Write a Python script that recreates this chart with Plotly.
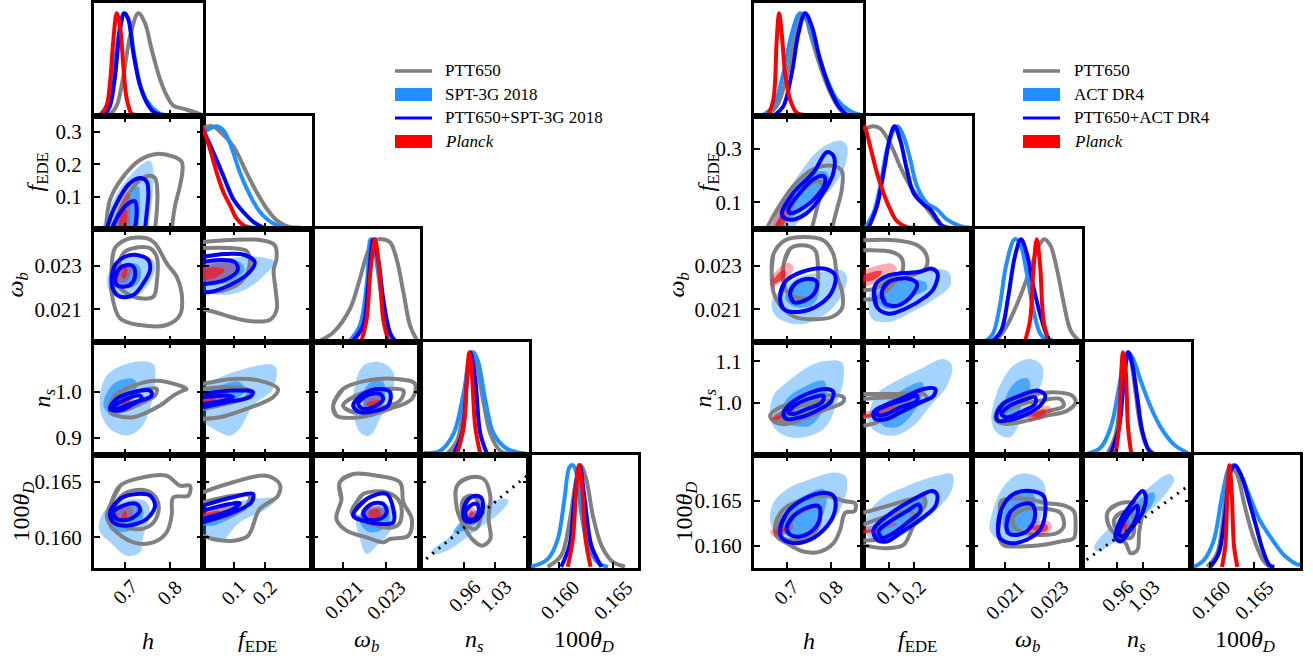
import plotly.graph_objects as go

W, H = 1313, 662
FONT = "Liberation Serif"

# ============================ LEFT : PTT650 / SPT-3G 2018 ============================
L_NAMES = ["PTT650", "SPT-3G 2018", "PTT650+SPT-3G 2018", "<i>Planck</i>"]

# 1D marginals (parameter value, normalised density)
L1_h = dict(
    ptt=[(0.6667,0),(0.6815,0.09),(0.6963,0.38),(0.7111,0.77),(0.7296,1),(0.7445,0.9),(0.7593,0.64),(0.7778,0.35),(0.7926,0.19),(0.8074,0.09),(0.8297,0.06),(0.8519,0.03),(0.8704,0)],
    ext=[(0.6444,0),(0.6593,0.09),(0.6741,0.42),(0.6889,0.87),(0.6978,1),(0.7074,0.94),(0.7185,0.64),(0.7333,0.30),(0.7482,0.14),(0.7704,0.03),(0.7852,0)],
    comb=[(0.6556,0),(0.6667,0.09),(0.6778,0.38),(0.6889,0.84),(0.6985,1),(0.7074,0.94),(0.7185,0.61),(0.7333,0.29),(0.7482,0.12),(0.763,0.03),(0.7778,0)],
    planck=[(0.6481,0),(0.6593,0.09),(0.6667,0.32),(0.6741,0.74),(0.6815,1),(0.6889,0.87),(0.6963,0.48),(0.7037,0.16),(0.7148,0.01),(0.725,0)],
)
L1_f = dict(
    ptt=[(0,0.98),(0.03,1.0),(0.0556,0.945),(0.0984,0.8),(0.1412,0.54),(0.1733,0.35),(0.2054,0.19),(0.2375,0.074),(0.2803,0.006),(0.31,0)],
    ext=[(0,0.94),(0.0235,0.977),(0.0449,1),(0.0663,0.96),(0.0877,0.83),(0.1198,0.54),(0.1519,0.32),(0.184,0.155),(0.2268,0.042),(0.2696,0.006),(0.3124,0)],
    comb=[(0,0.97),(0.0342,0.74),(0.0663,0.51),(0.0984,0.28),(0.1305,0.155),(0.1626,0.058),(0.1947,0)],
    planck=[(0,0.99),(0.0235,0.77),(0.0449,0.54),(0.0663,0.35),(0.0877,0.22),(0.1091,0.09),(0.1305,0.026),(0.1626,0)],
)
L1_w = dict(
    ptt=[(0.019907,0),(0.020531,0.08),(0.021314,0.31),(0.021783,0.61),(0.022097,0.84),(0.022407,0.98),(0.022801,1.0),(0.023190,0.97),(0.023504,0.80),(0.023814,0.48),(0.024128,0.15),(0.024442,0.01)],
    ext=[(0.021314,0),(0.021783,0.15),(0.022097,0.54),(0.022284,1),(0.022487,0.87),(0.022721,0.54),(0.023035,0.15),(0.023345,0.01)],
    comb=[(0.021470,0),(0.021938,0.15),(0.022173,0.54),(0.022407,1),(0.022642,0.8),(0.022876,0.41),(0.023190,0.08),(0.023425,0)],
    planck=[(0.021861,0),(0.022097,0.21),(0.022284,0.7),(0.022487,1),(0.022689,0.7),(0.022876,0.21),(0.023111,0)],
)
L1_n = dict(
    ptt=[(0.9209,0),(0.9435,0.13),(0.9584,0.46),(0.9697,0.93),(0.9774,1.0),(0.9887,0.86),(1.0036,0.5),(1.0187,0.2),(1.0413,0.03),(1.0639,0)],
    ext=[(0.8681,0.007),(0.9058,0.03),(0.9358,0.2),(0.9584,0.6),(0.9735,0.96),(0.9810,1.0),(0.9923,0.89),(1.0074,0.53),(1.0262,0.2),(1.0564,0.05),(1.1016,0)],
    comb=[(0.9358,0),(0.9548,0.2),(0.9661,0.73),(0.9735,1),(0.9848,0.73),(0.9961,0.2),(1.0113,0)],
    planck=[(0.9435,0),(0.9584,0.26),(0.9661,0.76),(0.9713,1),(0.9774,0.76),(0.9848,0.26),(0.9961,0)],
)
L1_t = dict(
    ptt=[(0.158897,0),(0.160157,0.11),(0.160943,0.44),(0.161575,0.86),(0.161980,1),(0.162518,0.86),(0.163140,0.5),(0.163932,0.21),(0.164875,0.06),(0.166130,0)],
    ext=[(0.157331,0),(0.158897,0.075),(0.159840,0.27),(0.160472,0.67),(0.160943,0.98),(0.161254,1),(0.161575,0.93),(0.162046,0.53),(0.162669,0.21),(0.163612,0.04),(0.164555,0)],
    comb=[(0.160157,0),(0.160943,0.21),(0.161415,0.67),(0.161886,1),(0.162358,0.67),(0.162989,0.21),(0.163932,0)],
    planck=[(0.160783,0),(0.161254,0.27),(0.161575,0.76),(0.161820,1),(0.162140,0.76),(0.162452,0.27),(0.162924,0)],
)

# 2D contours (x, y) : [outer (95%), inner (68%)]
L_f_h = dict(
    ptt=[[(0.658,0),(0.6667,0.0908),(0.6963,0.1626),(0.7333,0.2139),(0.7704,0.2324),(0.8074,0.2241),(0.826,0.2088),(0.828,0.183),(0.822,0.132),(0.811,0.070),(0.804,0)],
         [(0.6704,0),(0.6963,0.0805),(0.7259,0.1421),(0.7519,0.1646),(0.7667,0.1575),(0.7719,0.1113),(0.7704,0.0497),(0.7667,0)]],
    ext=[[(0.6481,0),(0.6667,0.0702),(0.7037,0.1523),(0.7408,0.2036),(0.7556,0.2118),(0.763,0.1831),(0.7615,0.1113),(0.7556,0.0395),(0.7519,0)],
         [(0.6667,0),(0.6889,0.0702),(0.7148,0.1215),(0.7296,0.1318),(0.7333,0.0908),(0.7296,0)]],
    comb=[[(0.6593,0),(0.6778,0.0702),(0.7111,0.1421),(0.737,0.1575),(0.7482,0.1472),(0.7519,0.1113),(0.7482,0.0497),(0.7445,0)],
          [(0.6704,0),(0.6889,0.0497),(0.7111,0.0826),(0.7222,0.0856),(0.7259,0.06),(0.7222,0)]],
    planck=[[(0.6741,0),(0.6852,0.0651),(0.7037,0.1164),(0.7111,0.101),(0.7096,0)],
            [(0.6852,0),(0.6926,0.0497),(0.7022,0.06),(0.7037,0)]],
)
L_w_h = dict(
    ptt=[[(0.6778,0.023832),(0.7038,0.024234),(0.7482,0.024280),(0.7667,0.024049),(0.7927,0.023125),(0.8149,0.022506),(0.8260,0.021739),(0.8222,0.020737),(0.7927,0.020275),(0.7333,0.020275),(0.6889,0.020584),(0.6704,0.021739),(0.6704,0.022968)],
         [(0.6963,0.023587),(0.7185,0.023818),(0.7556,0.023818),(0.7704,0.023430),(0.7704,0.022201),(0.7630,0.021582),(0.7333,0.021508),(0.7037,0.021739),(0.6815,0.022201)]],
    ext=[[(0.6593,0.022354),(0.6741,0.022968),(0.7038,0.023356),(0.7407,0.023430),(0.7630,0.023278),(0.7667,0.022816),(0.7482,0.022044),(0.7185,0.021508),(0.6889,0.021508),(0.6667,0.021813)],
         [(0.674,0.022506),(0.6889,0.022968),(0.7185,0.023125),(0.7333,0.022968),(0.7333,0.022354),(0.7185,0.022044),(0.6889,0.022044)]],
    comb=[[(0.6704,0.022354),(0.6778,0.023047),(0.7,0.023430),(0.726,0.023509),(0.7518,0.023278),(0.7556,0.022816),(0.7407,0.022201),(0.7185,0.021661),(0.6889,0.021582),(0.6741,0.021892)],
          [(0.6778,0.022354),(0.6852,0.022816),(0.7038,0.023047),(0.7185,0.022968),(0.7222,0.022506),(0.7111,0.022123),(0.6926,0.022044),(0.6815,0.022123)]],
    planck=[[(0.6815,0.022354),(0.6926,0.022894),(0.7073,0.023125),(0.7148,0.022968),(0.7111,0.022506),(0.6963,0.022201)],
            [(0.6926,0.022506),(0.6978,0.022894),(0.7038,0.022968),(0.7051,0.022737),(0.7,0.022432)]],
)
L_w_f = dict(
    ptt=[[(0,0.024109),(0.0867,0.024202),(0.183,0.024202),(0.2311,0.023971),(0.2375,0.023370),(0.2279,0.022816),(0.2343,0.021892),(0.2375,0.020968),(0.2151,0.020506),(0.1509,0.020460),(0.1027,0.020598),(0.0385,0.020875),(0,0.021014)],
         [(0,0.023832),(0.0867,0.023832),(0.1412,0.023693),(0.1509,0.023370),(0.1445,0.022723),(0.1188,0.022215),(0.0706,0.021892),(0.0225,0.021799),(0,0.021799)]],
    ext=[[(0,0.023185),(0.0867,0.023370),(0.183,0.023416),(0.2311,0.023185),(0.199,0.022585),(0.1348,0.021892),(0.0706,0.021661),(0,0.021799)],
         [(0,0.023001),(0.0706,0.023185),(0.1188,0.023185),(0.1348,0.022816),(0.0867,0.022261),(0,0.022076)]],
    comb=[[(0,0.023416),(0.0706,0.023555),(0.1348,0.023509),(0.1669,0.023185),(0.1509,0.022723),(0.0867,0.022123),(0.0225,0.021799),(0,0.021799)],
          [(0,0.023185),(0.0546,0.023278),(0.1027,0.023185),(0.1124,0.022816),(0.0706,0.022354),(0,0.022169)]],
    planck=[[(0,0.023093),(0.06,0.023185),(0.115,0.022985),(0.1,0.022585),(0.04,0.022261),(0,0.022169)],
            [(0,0.022816),(0.0385,0.022955),(0.0706,0.022816),(0.0385,0.022446),(0,0.022354)]],
)
L_n_h = dict(
    ptt=[[(0.6667,0.9552),(0.6741,0.9878),(0.7185,1.0130),(0.7704,1.0239),(0.8222,1.0130),(0.8371,1.0059),(0.8267,1.0015),(0.8074,0.9913),(0.7778,0.9696),(0.7185,0.9444),(0.6815,0.9478)],
         [(0.674,0.9624),(0.6889,0.9843),(0.7333,1.0022),(0.7704,1.0059),(0.7667,0.9913),(0.7333,0.9733),(0.6963,0.9587)]],
    ext=[[(0.6444,0.9624),(0.6593,1.0348),(0.7185,1.0639),(0.7630,1.0602),(0.7667,1.0204),(0.7556,0.9624),(0.7333,0.9189),(0.7037,0.9043),(0.6667,0.9189)],
         [(0.6518,0.9696),(0.674,1.0168),(0.7185,1.0277),(0.726,1.0096),(0.7038,0.9696),(0.674,0.9478)]],
    comb=[[(0.6667,0.9624),(0.6815,0.9843),(0.7185,0.9987),(0.7556,1.0022),(0.7593,0.9913),(0.726,0.9770),(0.6889,0.9587)],
          [(0.674,0.9661),(0.7038,0.9843),(0.7333,0.9913),(0.737,0.9843),(0.7111,0.9733),(0.6815,0.9624)]],
    planck=[[(0.6778,0.9696),(0.7038,0.9843),(0.7185,0.9878),(0.7148,0.9770),(0.6889,0.9661)],
            [(0.6889,0.9733),(0.7038,0.9804),(0.7111,0.9804),(0.7,0.9733)]],
)
L_n_f = dict(
    ptt=[[(0,1.0168),(0.0973,1.0277),(0.183,1.0239),(0.2417,1.0059),(0.2257,0.9878),(0.1403,0.9624),(0.0546,0.9443),(0,0.9407)],
         [(0,1.0059),(0.0973,1.0096),(0.1509,1.0022),(0.1403,0.9878),(0.076,0.9733),(0,0.9624)]],
    ext=[[(0,1.0130),(0.0973,1.0422),(0.2311,1.0568),(0.2257,1.0059),(0.1615,0.9696),(0.1188,0.9189),(0.0867,0.9043),(0,0.9335)],
         [(0,1.0015),(0.0706,1.0168),(0.1188,1.0211),(0.1348,1.0015),(0.0706,0.9711),(0,0.9581)]],
    comb=[[(0,0.9950),(0.0973,1.0022),(0.1615,0.9987),(0.1509,0.9878),(0.076,0.9770),(0,0.9661)],
          [(0,0.9878),(0.076,0.9913),(0.0973,0.9878),(0.0652,0.9804),(0,0.9733)]],
    planck=[[(0,0.9913),(0.0652,0.9913),(0.0867,0.9878),(0.0546,0.9804),(0,0.9733)],
            [(0,0.9878),(0.044,0.9878),(0.033,0.9804),(0,0.9783)]],
)
L_n_w = dict(
    ptt=[[(0.020536,0.9696),(0.021,1.0059),(0.022097,1.0239),(0.023504,1.0276),(0.024363,1.0168),(0.024208,0.9841),(0.023190,0.9624),(0.021783,0.9443),(0.020690,0.9478)],
         [(0.021,0.9696),(0.021783,0.9950),(0.023035,1.0059),(0.023814,1.0022),(0.023659,0.9804),(0.022567,0.9624),(0.021469,0.9552)]],
    ext=[[(0.021938,1.0565),(0.022721,1.0639),(0.023345,1.0422),(0.023270,0.9913),(0.022721,0.9407),(0.022252,0.9043),(0.021783,0.9117),(0.021469,0.9624),(0.021549,1.0130)],
         [(0.021938,0.9987),(0.022407,1.0239),(0.022876,1.0204),(0.022956,0.9913),(0.022642,0.9552),(0.022252,0.9443),(0.022018,0.9624)]],
    comb=[[(0.021469,0.9696),(0.021938,0.9950),(0.022721,1.0059),(0.023190,0.9987),(0.023111,0.9696),(0.022567,0.9587),(0.021783,0.9552)],
          [(0.021704,0.9733),(0.022097,0.9913),(0.022721,0.9950),(0.022876,0.9841),(0.022567,0.9696),(0.021938,0.9624)]],
    planck=[[(0.021938,0.9733),(0.022252,0.9878),(0.022801,0.9878),(0.022876,0.9770),(0.022486,0.9661),(0.022018,0.9624)],
            [(0.022097,0.9733),(0.022407,0.9804),(0.022721,0.9804),(0.022642,0.9696),(0.022252,0.9661)]],
)
L_t_h = dict(
    ptt=[[(0.6667,0.162841),(0.6889,0.164639),(0.7407,0.165394),(0.7926,0.165538),(0.8222,0.164639),(0.8444,0.164639),(0.8407,0.163740),(0.8074,0.163596),(0.8037,0.161942),(0.7926,0.160450),(0.7630,0.159551),(0.7185,0.159551),(0.6741,0.160746),(0.6593,0.161942)],
         [(0.6815,0.163146),(0.7038,0.164045),(0.7482,0.164189),(0.7704,0.163443),(0.7741,0.162248),(0.7556,0.161043),(0.7185,0.160746),(0.6889,0.161349),(0.6778,0.162248)]],
    ext=[[(0.6444,0.161645),(0.6667,0.162841),(0.7185,0.163443),(0.7482,0.163146),(0.7556,0.161942),(0.7407,0.160144),(0.7333,0.158652),(0.7038,0.158346),(0.6667,0.159551),(0.6444,0.160450)],
         [(0.6667,0.161645),(0.6889,0.162544),(0.7333,0.162841),(0.7407,0.161942),(0.7185,0.160746),(0.6889,0.160450),(0.6667,0.160746)]],
    comb=[[(0.6667,0.162248),(0.6889,0.163443),(0.726,0.163893),(0.7556,0.163740),(0.7667,0.162841),(0.7482,0.161645),(0.7038,0.161043),(0.6741,0.161349)],
          [(0.674,0.162248),(0.6963,0.162841),(0.726,0.162994),(0.7333,0.162391),(0.7111,0.161645),(0.6815,0.161645)]],
    planck=[[(0.6778,0.162095),(0.6963,0.162697),(0.7148,0.162697),(0.7185,0.162095),(0.7038,0.161645),(0.6815,0.161645)],
            [(0.6926,0.161942),(0.7,0.162391),(0.7038,0.162248),(0.7022,0.161645),(0.6948,0.161582)]],
)
L_t_f = dict(
    ptt=[[(0,0.164046),(0.0973,0.164945),(0.2044,0.165538),(0.2472,0.164792),(0.2418,0.163740),(0.183,0.162544),(0.1455,0.160144),(0.0973,0.159694),(0.0331,0.159847),(0,0.160144)],
         [(0,0.163146),(0.0973,0.163740),(0.1509,0.163740),(0.1403,0.162841),(0.0867,0.161942),(0,0.161492)]],
    ext=[[(0,0.161942),(0.0973,0.163146),(0.2366,0.163443),(0.2044,0.162544),(0.1188,0.161349),(0.0546,0.159551),(0,0.160144)],
         [(0,0.161942),(0.0973,0.162544),(0.1403,0.162544),(0.0973,0.161798),(0.0331,0.161043),(0,0.161043)]],
    comb=[[(0,0.162841),(0.0973,0.163596),(0.1615,0.163893),(0.1562,0.163146),(0.0973,0.162248),(0,0.161349)],
          [(0,0.162391),(0.0867,0.162994),(0.1188,0.163084),(0.0973,0.162544),(0,0.161645)]],
    planck=[[(0,0.162391),(0.076,0.162841),(0.0973,0.162697),(0.076,0.162248),(0,0.161798)],
            [(0,0.162185),(0.0546,0.162391),(0.044,0.162095),(0,0.161888)]],
)
L_t_w = dict(
    ptt=[[(0.020845,0.164945),(0.021469,0.165691),(0.022567,0.165538),(0.023659,0.164945),(0.023814,0.163147),(0.024208,0.161645),(0.024048,0.160144),(0.023190,0.159847),(0.022876,0.159551),(0.022097,0.160),(0.021159,0.160593),(0.020690,0.161645),(0.020925,0.163443)],
         [(0.021628,0.163147),(0.021938,0.163893),(0.023035,0.164045),(0.023659,0.163147),(0.023659,0.161348),(0.023345,0.160899),(0.022567,0.161043),(0.021783,0.161645),(0.021394,0.162248)]],
    ext=[[(0.021628,0.161645),(0.022097,0.162544),(0.023190,0.162841),(0.023504,0.162248),(0.023270,0.160746),(0.022567,0.159245),(0.022097,0.158499),(0.021783,0.159847)],
         [(0.021783,0.161942),(0.022252,0.162544),(0.023035,0.162544),(0.023190,0.161645),(0.022876,0.160746),(0.022252,0.160450),(0.021862,0.161043)]],
    comb=[[(0.021469,0.161942),(0.022097,0.163443),(0.023035,0.163893),(0.023345,0.162544),(0.023345,0.161348),(0.022721,0.161199),(0.021938,0.161492)],
          [(0.021938,0.162248),(0.022331,0.162994),(0.022876,0.162994),(0.023035,0.162248),(0.022721,0.161645),(0.022097,0.161645)]],
    planck=[[(0.022018,0.162248),(0.022331,0.162841),(0.022801,0.162697),(0.022956,0.161942),(0.022642,0.161492),(0.022173,0.161645)],
            [(0.022173,0.162095),(0.022407,0.162544),(0.022721,0.162391),(0.022721,0.161798),(0.022331,0.161708)]],
)
L_t_n = dict(
    ptt=[[(0.9435,0.164639),(0.9735,0.165394),(1.0036,0.165241),(1.0187,0.163740),(1.0149,0.161645),(1.0187,0.159847),(1.0000,0.159245),(0.9774,0.159847),(0.9584,0.161043),(0.9435,0.162544)],
         [(0.9584,0.163443),(0.9774,0.163740),(0.9923,0.163147),(0.9961,0.161645),(0.9848,0.160746),(0.9661,0.161043),(0.9548,0.162248)]],
    ext=[[(0.8832,0.158652),(0.9209,0.159847),(0.9810,0.162248),(1.0413,0.163443),(1.0600,0.163290),(1.0413,0.162248),(0.9810,0.160450),(0.9209,0.158796),(0.8871,0.158499)],
         [(0.9358,0.160450),(0.9584,0.161645),(0.9961,0.162544),(1.0074,0.162248),(0.9887,0.161348),(0.9584,0.160593)]],
    comb=[[(0.9584,0.162544),(0.9697,0.163443),(0.9887,0.163740),(1.0000,0.163443),(1.0000,0.162248),(0.9848,0.161492),(0.9623,0.161492)],
          [(0.9623,0.162248),(0.9735,0.162841),(0.9887,0.162994),(0.9923,0.162248),(0.9810,0.161645),(0.9661,0.161708)]],
    planck=[[(0.9661,0.162095),(0.9774,0.162697),(0.9848,0.162544),(0.9848,0.161798),(0.9697,0.161645)],
            [(0.9697,0.162095),(0.9774,0.162391),(0.9810,0.162095),(0.9735,0.161798)]],
)
L_line_ns = [0.86, 1.11]
L_line_theta = [0.157602, 0.165814]

# ============================ RIGHT : PTT650 / ACT DR4 ============================
R_NAMES = ["PTT650", "ACT DR4", "PTT650+ACT DR4", "<i>Planck</i>"]

R1_h = dict(
    ptt=[(0.6545,0),(0.6773,0.085),(0.7,0.38),(0.7152,0.71),(0.7303,0.95),(0.7394,1),(0.7531,0.80),(0.7758,0.48),(0.7985,0.22),(0.8213,0.05),(0.8364,0)],
    ext=[(0.6469,0),(0.6697,0.085),(0.6924,0.41),(0.7114,0.8),(0.7303,1),(0.7455,0.93),(0.7682,0.64),(0.7909,0.35),(0.8137,0.15),(0.8440,0.035),(0.8668,0)],
    comb=[(0.6735,0),(0.6924,0.085),(0.7114,0.41),(0.7265,0.8),(0.7417,1),(0.7569,0.87),(0.7758,0.54),(0.7985,0.25),(0.8175,0.085),(0.8364,0)],
    planck=[(0.6583,0),(0.6697,0.15),(0.6773,0.74),(0.6826,1),(0.6886,0.80),(0.6962,0.41),(0.7076,0.15),(0.7227,0.02),(0.7379,0)],
)
R1_f = dict(
    ptt=[(0,0.97),(0.0408,1.0),(0.0671,0.977),(0.1065,0.83),(0.1460,0.60),(0.1854,0.41),(0.2249,0.28),(0.2643,0.147),(0.3038,0.033),(0.3432,0)],
    ext=[(0.0079,0),(0.0408,0.147),(0.0671,0.41),(0.0934,0.77),(0.1197,0.96),(0.1354,1),(0.1591,0.90),(0.1854,0.67),(0.2117,0.41),(0.2512,0.24),(0.2906,0.18),(0.3301,0.08),(0.3827,0.016),(0.4221,0)],
    comb=[(0.0210,0),(0.0540,0.21),(0.0803,0.54),(0.1065,0.90),(0.1236,1),(0.1460,0.86),(0.1722,0.57),(0.1986,0.34),(0.2380,0.23),(0.2643,0.18),(0.2840,0.11),(0.3104,0.02),(0.3301,0)],
    planck=[(0,1.0),(0.0079,0.977),(0.0276,0.80),(0.0540,0.54),(0.0803,0.34),(0.1065,0.18),(0.1328,0.065),(0.1722,0.007),(0.2117,0)],
)
R1_w = dict(
    ptt=[(0.020615,0),(0.021077,0.14),(0.021693,0.43),(0.022155,0.70),(0.022617,0.96),(0.022802,1),(0.023079,0.94),(0.023387,0.70),(0.023695,0.37),(0.024002,0.105),(0.024386,0)],
    ext=[(0.020154,0),(0.020460,0.07),(0.020769,0.34),(0.021077,0.76),(0.021462,1),(0.021693,0.96),(0.022002,0.67),(0.022309,0.30),(0.022617,0.07),(0.022925,0)],
    comb=[(0.020460,0),(0.020846,0.105),(0.021154,0.43),(0.021462,0.83),(0.021739,1),(0.022002,0.86),(0.022309,0.53),(0.022694,0.20),(0.023002,0.02),(0.023155,0)],
    planck=[(0.021924,0),(0.022155,0.20),(0.022309,0.70),(0.022463,1),(0.022617,0.73),(0.022771,0.20),(0.023002,0)],
)
R1_n = dict(
    ptt=[(0.9331,0),(0.9555,0.19),(0.9689,0.59),(0.9797,0.92),(0.9869,0.98),(0.9958,0.92),(1.0093,0.59),(1.0227,0.26),(1.0408,0.06),(1.0588,0)],
    ext=[(0.8792,0),(0.9150,0.06),(0.9420,0.26),(0.9644,0.65),(0.9778,0.92),(0.9869,1),(1.0002,0.95),(1.0227,0.72),(1.0496,0.46),(1.0766,0.26),(1.1124,0.09),(1.1484,0.01)],
    comb=[(0.9420,0),(0.9644,0.26),(0.9778,0.72),(0.9896,1),(1.0002,0.88),(1.0138,0.55),(1.0273,0.22),(1.0453,0.03),(1.0543,0)],
    planck=[(0.9555,0),(0.9644,0.26),(0.9707,0.82),(0.9752,1),(0.9824,0.82),(0.9887,0.26),(0.9976,0)],
)
R1_t = dict(
    ptt=[(0.159621,0),(0.160757,0.13),(0.161515,0.52),(0.161894,0.92),(0.162348,0.99),(0.163030,0.92),(0.163976,0.59),(0.164924,0.30),(0.166060,0.066),(0.166817,0)],
    ext=[(0.158106,0),(0.159243,0.066),(0.160379,0.26),(0.161326,0.69),(0.162083,0.95),(0.162651,1),(0.163408,0.92),(0.164544,0.69),(0.165680,0.46),(0.167196,0.26),(0.168332,0.13),(0.169849,0.03),(0.1705,0.015)],
    comb=[(0.160000,0),(0.160946,0.13),(0.161704,0.52),(0.162272,0.92),(0.162840,1),(0.163598,0.89),(0.164544,0.62),(0.165302,0.39),(0.166060,0.16),(0.166817,0.016),(0.167384,0)],
    planck=[(0.161326,0),(0.161704,0.2),(0.161969,0.72),(0.162196,1),(0.162462,0.72),(0.162726,0.2),(0.163105,0)],
)

R_f_h = dict(
    ptt=[[(0.6545,0),(0.6733,0.0597),(0.715,0.1607),(0.7605,0.2242),(0.8059,0.2367),(0.8249,0.2179),(0.8249,0.1485),(0.8135,0.0725),(0.8021,0)],
         [(0.6733,0),(0.7,0.0725),(0.7378,0.1485),(0.7681,0.1799),(0.7833,0.1607),(0.7719,0.0977),(0.7567,0)]],
    ext=[[(0.662,0),(0.6848,0.0847),(0.7302,0.2117),(0.7757,0.3002),(0.8211,0.3317),(0.8364,0.3127),(0.8325,0.2367),(0.8059,0.1607),(0.7605,0.0847),(0.7302,0.0342),(0.715,0)],
         [(0.6924,0.0597),(0.7226,0.1607),(0.7605,0.2117),(0.7909,0.2117),(0.7947,0.1672),(0.7605,0.1102),(0.715,0.0470),(0.6962,0.0342)]],
    comb=[[(0.6886,0.0597),(0.715,0.1357),(0.7605,0.2117),(0.7909,0.2877),(0.8059,0.2747),(0.8059,0.2117),(0.7833,0.1357),(0.7455,0.0597),(0.7075,0.0342),(0.6909,0.0467)],
          [(0.7038,0.0725),(0.7302,0.1357),(0.7605,0.1862),(0.7833,0.1987),(0.7871,0.1737),(0.7681,0.1227),(0.7302,0.0725),(0.7075,0.0597)]],
    planck=[[(0.662,0),(0.6771,0.0597),(0.7,0.1102),(0.715,0.1230),(0.7188,0.0977),(0.7038,0.0342),(0.6924,0)],
            [(0.6733,0),(0.6810,0.0342),(0.6924,0.0597),(0.6985,0.0467),(0.6886,0)]],
)
R_w_h = dict(
    ptt=[[(0.6659,0.022723),(0.6696,0.023541),(0.6962,0.024188),(0.7377,0.024340),(0.7832,0.024188),(0.8059,0.023541),(0.8136,0.022571),(0.8264,0.021721),(0.8250,0.021028),(0.8023,0.020644),(0.7568,0.020538),(0.7189,0.020644),(0.6886,0.021106),(0.6696,0.021799)],
         [(0.6924,0.023033),(0.7075,0.023800),(0.7377,0.023957),(0.7643,0.023726),(0.7705,0.023033),(0.7682,0.021952),(0.7568,0.021568),(0.7264,0.021522),(0.7036,0.021721),(0.6924,0.022261)]],
    ext=[[(0.6659,0.021337),(0.6809,0.021799),(0.7189,0.022414),(0.7795,0.022723),(0.825,0.022802),(0.8364,0.022492),(0.8286,0.021799),(0.8023,0.021028),(0.7568,0.020413),(0.7114,0.020335),(0.6734,0.020723)],
         [(0.6962,0.021490),(0.7114,0.022109),(0.7491,0.022414),(0.7682,0.022261),(0.7718,0.021647),(0.7568,0.021185),(0.7189,0.021106)]],
    comb=[[(0.6848,0.021490),(0.6962,0.022261),(0.7341,0.022723),(0.7870,0.022876),(0.8098,0.022571),(0.8023,0.021799),(0.7718,0.021185),(0.7264,0.020875),(0.6924,0.021028)],
          [(0.7075,0.021721),(0.7189,0.022183),(0.7491,0.022414),(0.7682,0.022261),(0.7643,0.021799),(0.7416,0.021414),(0.7151,0.021337)]],
    planck=[[(0.662,0.022261),(0.6809,0.022876),(0.7036,0.023153),(0.7151,0.022954),(0.7075,0.022571),(0.6809,0.022183),(0.6682,0.022030)],
            [(0.6696,0.022339),(0.6848,0.022723),(0.6962,0.022802),(0.6962,0.022492),(0.6809,0.022261),(0.6718,0.022183)]],
)
R_w_f = dict(
    ptt=[[(0,0.024188),(0.1262,0.024188),(0.2183,0.023925),(0.2512,0.023416),(0.2446,0.022876),(0.1920,0.022571),(0.1262,0.022261),(0.0868,0.021799),(0.0473,0.021490),(0,0.021462)],
         [(0,0.023726),(0.1131,0.023647),(0.1525,0.023338),(0.1525,0.022723),(0.0999,0.022340),(0.0473,0.021952),(0,0.021878)]],
    ext=[[(0.0210,0.021490),(0.0605,0.022261),(0.1525,0.022723),(0.2709,0.022876),(0.3366,0.022723),(0.3432,0.022109),(0.2840,0.021490),(0.1920,0.020875),(0.0999,0.020413),(0.0342,0.020566)],
         [(0.0540,0.021645),(0.0868,0.022109),(0.1657,0.022340),(0.2446,0.022261),(0.2512,0.021952),(0.1920,0.021568),(0.1262,0.021028),(0.0736,0.021106)]],
    comb=[[(0.0473,0.022109),(0.0999,0.022571),(0.2183,0.022723),(0.2709,0.022876),(0.2931,0.022645),(0.2774,0.021952),(0.2446,0.021568),(0.1657,0.021028),(0.0999,0.020798),(0.0540,0.021106)],
          [(0.0736,0.021799),(0.0999,0.022261),(0.1788,0.022414),(0.2117,0.022183),(0.1920,0.021645),(0.1394,0.021185),(0.0868,0.021260)]],
    planck=[[(0,0.022802),(0.0605,0.023033),(0.1131,0.023110),(0.1328,0.022876),(0.0999,0.022492),(0.0473,0.022183),(0,0.022030)],
            [(0,0.022571),(0.0473,0.022753),(0.0736,0.022753),(0.0605,0.022492),(0.0210,0.022291),(0,0.022261)]],
)
R_n_h = dict(
    ptt=[[(0.6621,0.9696),(0.6848,0.9896),(0.7303,1.0056),(0.7834,1.0176),(0.8289,1.0136),(0.8274,1.0016),(0.7909,0.9856),(0.7455,0.9656),(0.7,0.9497),(0.6735,0.9537)],
         [(0.6735,0.9656),(0.7,0.9816),(0.7455,0.9976),(0.7985,1.0056),(0.8023,1.0016),(0.7682,0.9856),(0.7227,0.9656),(0.6848,0.9577)]],
    ext=[[(0.6621,0.9696),(0.6697,1.0176),(0.7,1.0495),(0.7531,1.0895),(0.7909,1.1015),(0.8251,1.0975),(0.8289,1.0575),(0.8137,1.0016),(0.7909,0.9457),(0.7531,0.9217),(0.7076,0.9177),(0.6735,0.9377)],
         [(0.6848,0.9696),(0.7,1.0096),(0.7379,1.0376),(0.7834,1.0535),(0.7909,1.0256),(0.7796,0.9776),(0.7531,0.9457),(0.7152,0.9457),(0.6886,0.9537)]],
    comb=[[(0.6924,0.9736),(0.7076,0.9976),(0.7455,1.0216),(0.7909,1.0336),(0.8061,1.0256),(0.7985,1.0016),(0.7682,0.9816),(0.7303,0.9656),(0.7,0.9616)],
          [(0.7038,0.9776),(0.7227,0.9976),(0.7606,1.0136),(0.7834,1.0176),(0.7796,1.0016),(0.7455,0.9856),(0.7152,0.9736)]],
    planck=[[(0.6621,0.9616),(0.6848,0.9736),(0.7152,0.9896),(0.7190,0.9816),(0.6924,0.9656),(0.6697,0.9577)],
            [(0.6697,0.9632),(0.6886,0.9712),(0.7038,0.9776),(0.6962,0.9680),(0.6735,0.9600)]],
)
R_n_f = dict(
    ptt=[[(0,1.0216),(0.1197,1.0216),(0.2380,1.0216),(0.2512,1.0096),(0.2117,0.9976),(0.1197,0.9776),(0.0540,0.9537),(0,0.9457)],
         [(0,1.0096),(0.1197,1.0136),(0.1854,1.0096),(0.1789,1.0016),(0.1197,0.9896),(0.054,0.9736),(0,0.9656)]],
    ext=[[(0.0276,0.9856),(0.0540,1.0216),(0.1197,1.0495),(0.2249,1.0815),(0.3170,1.1055),(0.3498,1.0895),(0.3301,1.0415),(0.2643,0.9936),(0.1986,0.9457),(0.1197,0.9217),(0.0540,0.9297),(0.0210,0.9537)],
         [(0.0671,0.9816),(0.1065,1.0096),(0.1723,1.0376),(0.2314,1.0495),(0.2380,1.0296),(0.1986,0.9776),(0.1460,0.9457),(0.0934,0.9417),(0.0605,0.9577)]],
    comb=[[(0.0408,0.9776),(0.0671,0.9896),(0.1460,1.0096),(0.2380,1.0336),(0.2840,1.0336),(0.2775,1.0176),(0.2249,1.0016),(0.1460,0.9776),(0.0934,0.9616),(0.0474,0.9616)],
          [(0.054,0.9816),(0.0934,0.9936),(0.1723,1.0096),(0.2117,1.0176),(0.2117,1.0056),(0.1460,0.9896),(0.0934,0.9736),(0.0605,0.9696)]],
    planck=[[(0,0.9776),(0.0671,0.9856),(0.1197,0.9936),(0.1328,0.9856),(0.0803,0.9736),(0,0.9632)],
            [(0,0.9712),(0.054,0.9760),(0.0803,0.9776),(0.054,0.9696),(0,0.9656)]],
)
R_n_w = dict(
    ptt=[[(0.020615,0.9776),(0.021077,1.0056),(0.022002,1.0176),(0.023232,1.0256),(0.024079,1.0176),(0.024234,1.0016),(0.023849,0.9816),(0.022925,0.9696),(0.022002,0.9577),(0.021077,0.9497),(0.020615,0.9577)],
         [(0.020923,0.9736),(0.021539,0.9936),(0.022617,1.0056),(0.023541,1.0096),(0.023695,0.9936),(0.023079,0.9816),(0.022002,0.9696),(0.021154,0.9616)]],
    ext=[[(0.020460,0.9936),(0.020769,1.0416),(0.021385,1.0895),(0.022155,1.1055),(0.022694,1.0895),(0.022694,1.0495),(0.022155,1.0016),(0.021693,0.9537),(0.021231,0.9177),(0.020615,0.9297),(0.020384,0.9616)],
         [(0.020923,0.9936),(0.021231,1.0336),(0.021693,1.0575),(0.022078,1.0575),(0.022155,1.0336),(0.021770,0.9936),(0.021385,0.9537),(0.021,0.9497),(0.020846,0.9696)]],
    comb=[[(0.020615,0.9696),(0.020923,0.9976),(0.021693,1.0176),(0.022540,1.0296),(0.022848,1.0176),(0.022617,0.9936),(0.021847,0.9696),(0.021077,0.9577),(0.020692,0.9577)],
          [(0.020846,0.9736),(0.021231,0.9936),(0.022002,1.0096),(0.022386,1.0136),(0.022386,0.9976),(0.021693,0.9776),(0.021077,0.9656)]],
    planck=[[(0.022002,0.9656),(0.022463,0.9856),(0.023001,0.9936),(0.023157,0.9816),(0.022771,0.9656),(0.022155,0.9577)],
            [(0.022232,0.9696),(0.022540,0.9816),(0.022848,0.9840),(0.022848,0.9736),(0.022463,0.9656)]],
)
R_t_h = dict(
    ptt=[[(0.6735,0.162164),(0.6924,0.164059),(0.7379,0.165196),(0.7909,0.165575),(0.8289,0.165007),(0.8554,0.164741),(0.8539,0.163870),(0.8327,0.163680),(0.8213,0.161785),(0.8061,0.160269),(0.7758,0.159321),(0.7379,0.159321),(0.6999,0.160269),(0.6773,0.161027)],
         [(0.6773,0.161785),(0.6924,0.162922),(0.7379,0.163870),(0.7682,0.164438),(0.7758,0.163301),(0.7682,0.161785),(0.7455,0.160838),(0.7,0.160648),(0.6811,0.161217)]],
    ext=[[(0.6697,0.164817),(0.7,0.166333),(0.7531,0.167470),(0.8061,0.168228),(0.8327,0.167849),(0.8365,0.166333),(0.8213,0.164059),(0.7909,0.161785),(0.7531,0.160648),(0.7076,0.160269),(0.6735,0.161406),(0.6621,0.162922)],
         [(0.6924,0.163301),(0.7152,0.164817),(0.7531,0.165954),(0.7834,0.166333),(0.7909,0.165196),(0.7758,0.162922),(0.7455,0.161406),(0.7076,0.161027),(0.6886,0.161785)]],
    comb=[[(0.6848,0.161785),(0.7,0.163680),(0.7379,0.165196),(0.7834,0.165954),(0.8061,0.165575),(0.8099,0.164059),(0.7909,0.162164),(0.7531,0.160648),(0.7152,0.160269),(0.6886,0.160838)],
          [(0.7,0.161975),(0.7152,0.163301),(0.7455,0.164249),(0.7720,0.164438),(0.7758,0.163301),(0.7606,0.161785),(0.7303,0.161027),(0.7076,0.161217)]],
    planck=[[(0.6621,0.161596),(0.6848,0.162164),(0.7114,0.162543),(0.7152,0.161975),(0.6924,0.161217),(0.6697,0.161027)],
            [(0.6735,0.161596),(0.6924,0.161975),(0.7038,0.162088),(0.6962,0.161596),(0.6773,0.161331)]],
)
R_t_f = dict(
    ptt=[[(0,0.163680),(0.0934,0.164438),(0.1854,0.165196),(0.2380,0.165386),(0.2446,0.164628),(0.2117,0.163301),(0.1854,0.161406),(0.1591,0.160080),(0.0934,0.159700),(0.0276,0.159890),(0,0.160080)],
         [(0,0.162354),(0.0934,0.163301),(0.1723,0.163870),(0.1986,0.163491),(0.1723,0.162543),(0.1197,0.161406),(0.054,0.160648),(0,0.160572)]],
    ext=[[(0.0145,0.163301),(0.0671,0.165196),(0.1723,0.166712),(0.2906,0.167849),(0.3498,0.168038),(0.3498,0.166333),(0.3038,0.164438),(0.2249,0.162543),(0.1460,0.161027),(0.0803,0.160269),(0.0276,0.160648),(0.0079,0.161785)],
         [(0.0408,0.161785),(0.0803,0.163301),(0.1591,0.164628),(0.2380,0.165954),(0.2512,0.165196),(0.2249,0.163301),(0.1591,0.161406),(0.0934,0.160648),(0.0474,0.160838)]],
    comb=[[(0.0408,0.161785),(0.0934,0.163301),(0.1986,0.165196),(0.2709,0.166144),(0.2906,0.165765),(0.2840,0.164438),(0.2249,0.162922),(0.1460,0.161406),(0.0934,0.160459),(0.054,0.160648)],
          [(0.0605,0.161596),(0.1066,0.162733),(0.1723,0.163870),(0.2183,0.164628),(0.2249,0.163870),(0.1723,0.162543),(0.1197,0.161406),(0.0737,0.160838)]],
    planck=[[(0,0.161975),(0.054,0.162354),(0.1197,0.162733),(0.1328,0.162354),(0.0803,0.161785),(0,0.161217)],
            [(0,0.161709),(0.054,0.161899),(0.0803,0.161975),(0.054,0.161596),(0,0.161406)]],
)
R_t_w = dict(
    ptt=[[(0.020769,0.163680),(0.020846,0.165007),(0.022002,0.165272),(0.022771,0.164817),(0.023695,0.164514),(0.024155,0.163870),(0.024232,0.162164),(0.024155,0.160838),(0.023541,0.160459),(0.022771,0.160080),(0.021693,0.159890),(0.020923,0.160080),(0.020692,0.161406)],
         [(0.021385,0.163301),(0.021847,0.164059),(0.022771,0.164135),(0.023541,0.163680),(0.023695,0.162164),(0.023386,0.161406),(0.022463,0.161217),(0.021693,0.161596),(0.021385,0.162354)]],
    ext=[[(0.020384,0.163301),(0.020769,0.165954),(0.021462,0.167849),(0.022155,0.168038),(0.022771,0.167091),(0.022848,0.164817),(0.022617,0.162922),(0.022155,0.161027),(0.021385,0.160269),(0.020692,0.160648),(0.020307,0.161785)],
         [(0.020923,0.163301),(0.021231,0.165196),(0.021847,0.166144),(0.022309,0.165765),(0.022386,0.164059),(0.022155,0.162354),(0.021539,0.161406),(0.021,0.161785)]],
    comb=[[(0.020692,0.161596),(0.020846,0.164059),(0.021385,0.165765),(0.022155,0.166144),(0.022771,0.165576),(0.022848,0.163680),(0.022617,0.161785),(0.022002,0.160648),(0.021231,0.160269),(0.020769,0.160838)],
          [(0.021077,0.162164),(0.021231,0.163680),(0.021770,0.164628),(0.022232,0.164628),(0.022386,0.163491),(0.022155,0.161975),(0.021616,0.161217),(0.021154,0.161406)]],
    planck=[[(0.022002,0.162164),(0.022463,0.162733),(0.023002,0.162733),(0.023155,0.161975),(0.022771,0.161217),(0.022155,0.161217)],
            [(0.022232,0.161975),(0.022617,0.162354),(0.022925,0.162354),(0.022956,0.161785),(0.022540,0.161482)]],
)
R_t_n = dict(
    ptt=[[(0.9331,0.163680),(0.96,0.164628),(1.0047,0.164817),(1.0273,0.164059),(1.0227,0.162543),(1.0183,0.161406),(1.0138,0.159511),(0.9958,0.159132),(0.9824,0.160269),(0.96,0.161027),(0.9376,0.162164)],
         [(0.9511,0.162922),(0.9689,0.163680),(0.9958,0.163756),(1.0047,0.162543),(1.0004,0.161027),(0.9869,0.160838),(0.9689,0.161596),(0.9528,0.162164)]],
    ext=[[(0.8972,0.159814),(0.9331,0.161785),(0.9869,0.164059),(1.0496,0.166712),(1.0991,0.168038),(1.1124,0.167470),(1.0857,0.165576),(1.0408,0.163680),(0.9869,0.161596),(0.9420,0.160080),(0.9062,0.159321)],
         [(0.9555,0.161785),(0.9869,0.163680),(1.0316,0.165576),(1.0588,0.165954),(1.0588,0.165007),(1.0273,0.163301),(0.9869,0.161785),(0.9600,0.161217)]],
    comb=[[(0.9555,0.160838),(0.9689,0.162922),(1.0002,0.164817),(1.0273,0.166144),(1.0362,0.165576),(1.0273,0.163680),(0.9958,0.161785),(0.9689,0.160459)],
          [(0.9645,0.161217),(0.9778,0.162733),(1.0002,0.164059),(1.0138,0.164438),(1.0138,0.163491),(0.9958,0.161975),(0.9735,0.161027)]],
    planck=[[(0.9671,0.161785),(0.9778,0.162733),(0.9913,0.162922),(0.9913,0.161975),(0.9778,0.161406)],
            [(0.9735,0.161975),(0.9824,0.162543),(0.9869,0.162354),(0.9824,0.161785)]],
)
R_line_ns = [0.86, 1.16]
R_line_theta = [0.157868, 0.167006]

# ----------------------------- axes / ticks -----------------------------
PARAM_LABELS = ["<i>h</i>", "<i>f</i><sub>EDE</sub>", "<i>ω</i><sub><i>b</i></sub>",
                "<i>n</i><sub><i>s</i></sub>", "100<i>θ</i><sub><i>D</i></sub>"]
L_XTICKS = [[0.7, 0.8], [0.1, 0.2], [0.021, 0.023], [0.96, 1.03], [0.160, 0.165]]
L_XTEXT = [["0.7", "0.8"], ["0.1", "0.2"], ["0.021", "0.023"], ["0.96", "1.03"], ["0.160", "0.165"]]
L_YTICKS = [None, [0.1, 0.2, 0.3], [0.021, 0.023], [0.9, 1.0], [0.160, 0.165]]
L_YTEXT = [None, ["0.1", "0.2", "0.3"], ["0.021", "0.023"], ["0.9", "1.0"], ["0.160", "0.165"]]
R_XTICKS = [[0.7, 0.8], [0.1, 0.2], [0.021, 0.023], [0.96, 1.03], [0.160, 0.165]]
R_XTEXT = L_XTEXT
R_YTICKS = [None, [0.1, 0.3], [0.021, 0.023], [1.0, 1.1], [0.160, 0.165]]
R_YTEXT = [None, ["0.1", "0.3"], ["0.021", "0.023"], ["1.0", "1.1"], ["0.160", "0.165"]]

L_XRANGE = [[0.631, 0.873], [0, 0.35], [0.01953, 0.02461], [0.8606, 1.1068], [0.15717, 0.16736]]
L_YRANGE = [None, [0, 0.35], [0.01949, 0.02471], [0.862, 1.108], [0.15724, 0.1674]]
R_XRANGE = [[0.6257, 0.8734], [0, 0.43], [0.01952, 0.02451], [0.8639, 1.1574], [0.15773, 0.17034]]
R_YRANGE = [None, [0, 0.4235], [0.01949, 0.02471], [0.8753, 1.1463], [0.15747, 0.17019]]

L_COLS = [94, 202.8, 311.6, 420.4, 529.2, 638]
R_COLS = [754, 863.2, 972.4, 1081.6, 1190.8, 1300]
ROWS = [3, 116, 229, 342, 455, 568]
L_YLAB_X = [None, 36, 16, 43, 22]
R_YLAB_X = [None, 707, 677, 704, 685]

COLOR = dict(ptt="#808080", ext="rgb(30,144,255)", comb="#0000ff", planck="#ff0000")
FILLS = dict(ext=("rgba(30,144,255,0.40)", "rgba(30,144,255,0.67)"),
             planck=("rgba(240,25,35,0.36)", "rgba(240,25,35,0.75)"))

fig = go.Figure()
layout = {}
annotations = []
shapes = []
counter = [0]


def on_edge(p):
    return p[0][0] == 0 or p[0][1] == 0


def xy(p, close):
    q = list(p)
    if close:
        q = [p[-1]] + q + [p[0], p[1]]
    return [a for a, _ in q], [b for _, b in q]


def add_fill(p, color, s):
    x, y = xy(p, not on_edge(p))
    fig.add_trace(go.Scatter(x=x, y=y, mode="lines", fill="toself", fillcolor=color,
                             line=dict(width=0, shape="spline", smoothing=1), hoverinfo="skip",
                             xaxis="x" + s, yaxis="y" + s))


def add_line(p, color, width, s, close=True):
    x, y = xy(p, close and not on_edge(p))
    fig.add_trace(go.Scatter(x=x, y=y, mode="lines", line=dict(color=color, width=width, shape="spline", smoothing=1),
                             hoverinfo="skip", xaxis="x" + s, yaxis="y" + s))


def build(cols, xr, yr, xt, xtt, yt, ytt, d1, d2, line_ns, line_th, ylab_x):
    for i in range(5):
        for j in range(i + 1):
            counter[0] += 1
            n = counter[0]
            s = "" if n == 1 else str(n)
            diag = i == j
            xdom = [cols[j] / W, cols[j + 1] / W]
            ydom = [1 - ROWS[i + 1] / H, 1 - ROWS[i] / H]
            common = dict(showline=True, linewidth=3, linecolor="black", showgrid=False, zeroline=False,
                          ticks="inside", ticklen=6, tickwidth=1.5, tickcolor="black", fixedrange=True)
            xa = dict(common, domain=xdom, range=xr[j], anchor="y" + s, tickvals=xt[j],
                      showticklabels=False, mirror=True if diag else "ticks")
            if diag:
                ya = dict(common, domain=ydom, range=[-0.012, 1.1], anchor="x" + s, tickvals=[],
                          ticks="", showticklabels=False, mirror=True)
            else:
                ya = dict(common, domain=ydom, range=yr[i], anchor="x" + s, tickvals=yt[i],
                          ticktext=ytt[i], showticklabels=(j == 0), mirror="ticks",
                          tickfont=dict(family=FONT, size=21, color="black"), ticklabelstandoff=5)
            layout["xaxis" + s] = xa
            layout["yaxis" + s] = ya

            if diag:
                d = d1[i]
                for k in ["ptt", "ext", "comb", "planck"]:
                    add_line(d[k], COLOR[k], 4, s, close=False)
            else:
                d = d2[(i, j)]
                add_fill(d["ext"][0], FILLS["ext"][0], s)
                add_fill(d["ext"][1], FILLS["ext"][1], s)
                add_line(d["ptt"][0], COLOR["ptt"], 4, s)
                add_line(d["ptt"][1], COLOR["ptt"], 4, s)
                add_fill(d["planck"][0], FILLS["planck"][0], s)
                add_fill(d["planck"][1], FILLS["planck"][1], s)
                add_line(d["comb"][0], COLOR["comb"], 4, s)
                add_line(d["comb"][1], COLOR["comb"], 4, s)
                if (i, j) == (4, 3):
                    fig.add_trace(go.Scatter(x=line_ns, y=line_th, mode="lines",
                                             line=dict(color="black", width=3, dash="2px,6px"),
                                             hoverinfo="skip", xaxis="x" + s, yaxis="y" + s))
            if i == 4:
                for v, t in zip(xt[j], xtt[j]):
                    annotations.append(dict(x=v, y=1 - 573 / H, xref="x" + s, yref="paper", text=t,
                                            textangle=-45, xanchor="center", yanchor="top", showarrow=False,
                                            font=dict(family=FONT, size=20, color="black")))
                annotations.append(dict(x=(cols[j] + cols[j + 1]) / 2 / W, y=1 - 641 / H, xref="paper",
                                        yref="paper", text=PARAM_LABELS[j], showarrow=False,
                                        xanchor="center", yanchor="middle",
                                        font=dict(family=FONT, size=24, color="black")))
            if j == 0 and i > 0:
                annotations.append(dict(x=ylab_x[i] / W, y=1 - (ROWS[i] + ROWS[i + 1]) / 2 / H,
                                        xref="paper", yref="paper", text=PARAM_LABELS[i], textangle=-90,
                                        showarrow=False, xanchor="center", yanchor="middle",
                                        font=dict(family=FONT, size=24, color="black")))


build(L_COLS, L_XRANGE, L_YRANGE, L_XTICKS, L_XTEXT, L_YTICKS, L_YTEXT,
      [L1_h, L1_f, L1_w, L1_n, L1_t],
      {(1, 0): L_f_h, (2, 0): L_w_h, (2, 1): L_w_f, (3, 0): L_n_h, (3, 1): L_n_f, (3, 2): L_n_w,
       (4, 0): L_t_h, (4, 1): L_t_f, (4, 2): L_t_w, (4, 3): L_t_n},
      L_line_ns, L_line_theta, L_YLAB_X)
build(R_COLS, R_XRANGE, R_YRANGE, R_XTICKS, R_XTEXT, R_YTICKS, R_YTEXT,
      [R1_h, R1_f, R1_w, R1_n, R1_t],
      {(1, 0): R_f_h, (2, 0): R_w_h, (2, 1): R_w_f, (3, 0): R_n_h, (3, 1): R_n_f, (3, 2): R_n_w,
       (4, 0): R_t_h, (4, 1): R_t_f, (4, 2): R_t_w, (4, 3): R_t_n},
      R_line_ns, R_line_theta, R_YLAB_X)

# ------------------------------ legends ------------------------------
LEG_ROWS = [71, 94.5, 118, 141.5]


def legend(x0, x1, xt, names):
    shapes.append(dict(type="line", xref="paper", yref="paper", x0=x0 / W, x1=x1 / W,
                       y0=1 - LEG_ROWS[0] / H, y1=1 - LEG_ROWS[0] / H, line=dict(color=COLOR["ptt"], width=3.5)))
    shapes.append(dict(type="rect", xref="paper", yref="paper", x0=x0 / W, x1=x1 / W,
                       y0=1 - (LEG_ROWS[1] + 6.5) / H, y1=1 - (LEG_ROWS[1] - 6.5) / H,
                       fillcolor=COLOR["ext"], line=dict(width=0)))
    shapes.append(dict(type="line", xref="paper", yref="paper", x0=x0 / W, x1=x1 / W,
                       y0=1 - LEG_ROWS[2] / H, y1=1 - LEG_ROWS[2] / H, line=dict(color=COLOR["comb"], width=3)))
    shapes.append(dict(type="rect", xref="paper", yref="paper", x0=x0 / W, x1=x1 / W,
                       y0=1 - (LEG_ROWS[3] + 6.5) / H, y1=1 - (LEG_ROWS[3] - 6.5) / H,
                       fillcolor=COLOR["planck"], line=dict(width=0)))
    for yv, t in zip(LEG_ROWS, names):
        annotations.append(dict(x=xt / W, y=1 - yv / H, xref="paper", yref="paper", text=t, showarrow=False,
                                xanchor="left", yanchor="middle", font=dict(family=FONT, size=17, color="black")))


legend(395, 432, 443, L_NAMES)
legend(1023, 1060, 1072, R_NAMES)

fig.update_layout(layout)
fig.update_layout(width=W, height=H, margin=dict(l=0, r=0, t=0, b=0), showlegend=False,
                  plot_bgcolor="white", paper_bgcolor="white", annotations=annotations, shapes=shapes)
fig.write_html("out.html")
